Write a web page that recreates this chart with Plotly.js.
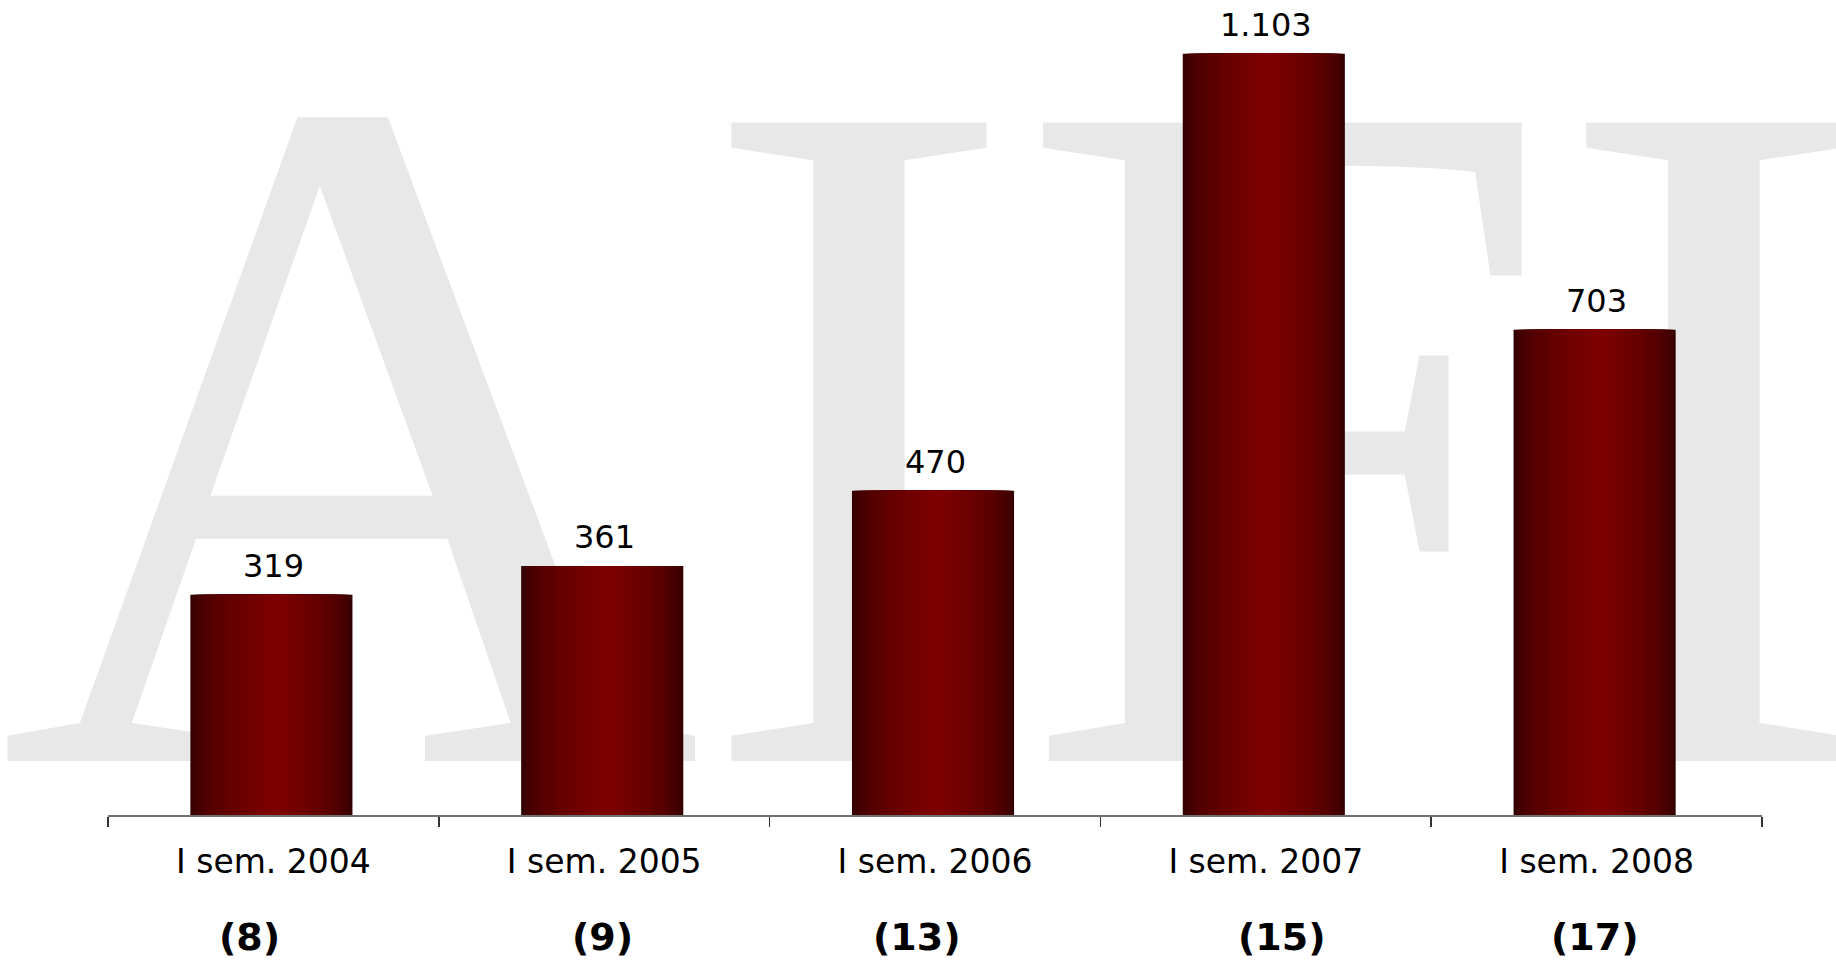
<!DOCTYPE html>
<html>
<head>
<meta charset="utf-8">
<script src="https://cdn.plot.ly/plotly-3.0.1.min.js"></script>
<style>
  html, body { margin: 0; padding: 0; background: #ffffff; }
  #wrap { position: relative; width: 1836px; height: 960px; overflow: hidden; }
  #wm { position: absolute; left: 0; top: 0; }
  #chart { position: absolute; left: 0; top: 0; width: 1836px; height: 960px; }
</style>
</head>
<body>
<div id="wrap">
  <svg id="wm" width="1836" height="960">
    <text x="-2" y="761" font-family="Liberation Serif, Times New Roman, serif" font-size="975" letter-spacing="-6" fill="#e8e8e8">AIFI</text>
  </svg>
  <div id="chart"></div>
</div>
<script>
// ---- data ----
const categories = ["I sem. 2004", "I sem. 2005", "I sem. 2006", "I sem. 2007", "I sem. 2008"];
const values = [319, 361, 470, 1103, 703];
const counts = ["(8)", "(9)", "(13)", "(15)", "(17)"];

// ---- style ----
const countShift = [-24, -2, -18, 16, -2];
const barWidth = 0.49;
const peak = 0.53;
const steps = 32;
const dark = [50, 0, 0];
const bright = [128, 0, 0];

const traces = [];
for (let k = 0; k < steps; k++) {
  const c = k / steps;                      // level 0 .. <1
  const a = c * peak;                       // left edge of this level (fraction of bar)
  const b = 1 - c * (1 - peak);             // right edge of this level
  const t = Math.pow(c, 0.55);
  const col = dark.map((d, i) => Math.round(d + (bright[i] - d) * t));
  traces.push({
    type: "bar",
    x: categories,
    y: values,
    width: categories.map(() => (b - a) * barWidth),
    offset: categories.map(() => -barWidth / 2 + a * barWidth - 0.006),
    marker: { color: "rgb(" + col.join(",") + ")", line: { width: 0 } },
    hoverinfo: "skip",
    showlegend: false
  });
}

const annotations = [];
categories.forEach((cat, i) => {
  annotations.push({
    x: cat, y: values[i], xref: "x", yref: "y",
    text: values[i].toLocaleString("it-IT"),
    showarrow: false, yanchor: "bottom", yshift: 8,
    font: { family: "DejaVu Sans, Verdana, sans-serif", size: 32, color: "#000" }
  });
  annotations.push({
    x: cat, y: 0, xref: "x", yref: "paper",
    text: "<b>" + counts[i] + "</b>",
    showarrow: false, yanchor: "middle", yshift: -122, xshift: countShift[i],
    font: { family: "DejaVu Sans, Verdana, sans-serif", size: 38, color: "#000" }
  });
});

const layout = {
  width: 1836, height: 960,
  margin: { l: 108, r: 74, t: 0, b: 145 },
  paper_bgcolor: "rgba(0,0,0,0)",
  plot_bgcolor: "rgba(0,0,0,0)",
  barmode: "overlay",
  separators: ",.",
  showlegend: false,
  xaxis: {
    type: "category",
    showline: true, linecolor: "#707070", linewidth: 1.5,
    ticks: "outside", tickson: "boundaries", ticklen: 10, tickwidth: 1.5, tickcolor: "#333",
    showgrid: false, zeroline: false,
    tickfont: { family: "DejaVu Sans, Verdana, sans-serif", size: 33, color: "#000" },
    ticklabelstandoff: 17,
    fixedrange: true
  },
  yaxis: {
    range: [0, 1181],
    visible: false, showgrid: false, zeroline: false,
    fixedrange: true
  },
  annotations: annotations
};

Plotly.newPlot("chart", traces, layout, { displayModeBar: false, staticPlot: true });
</script>
</body>
</html>
